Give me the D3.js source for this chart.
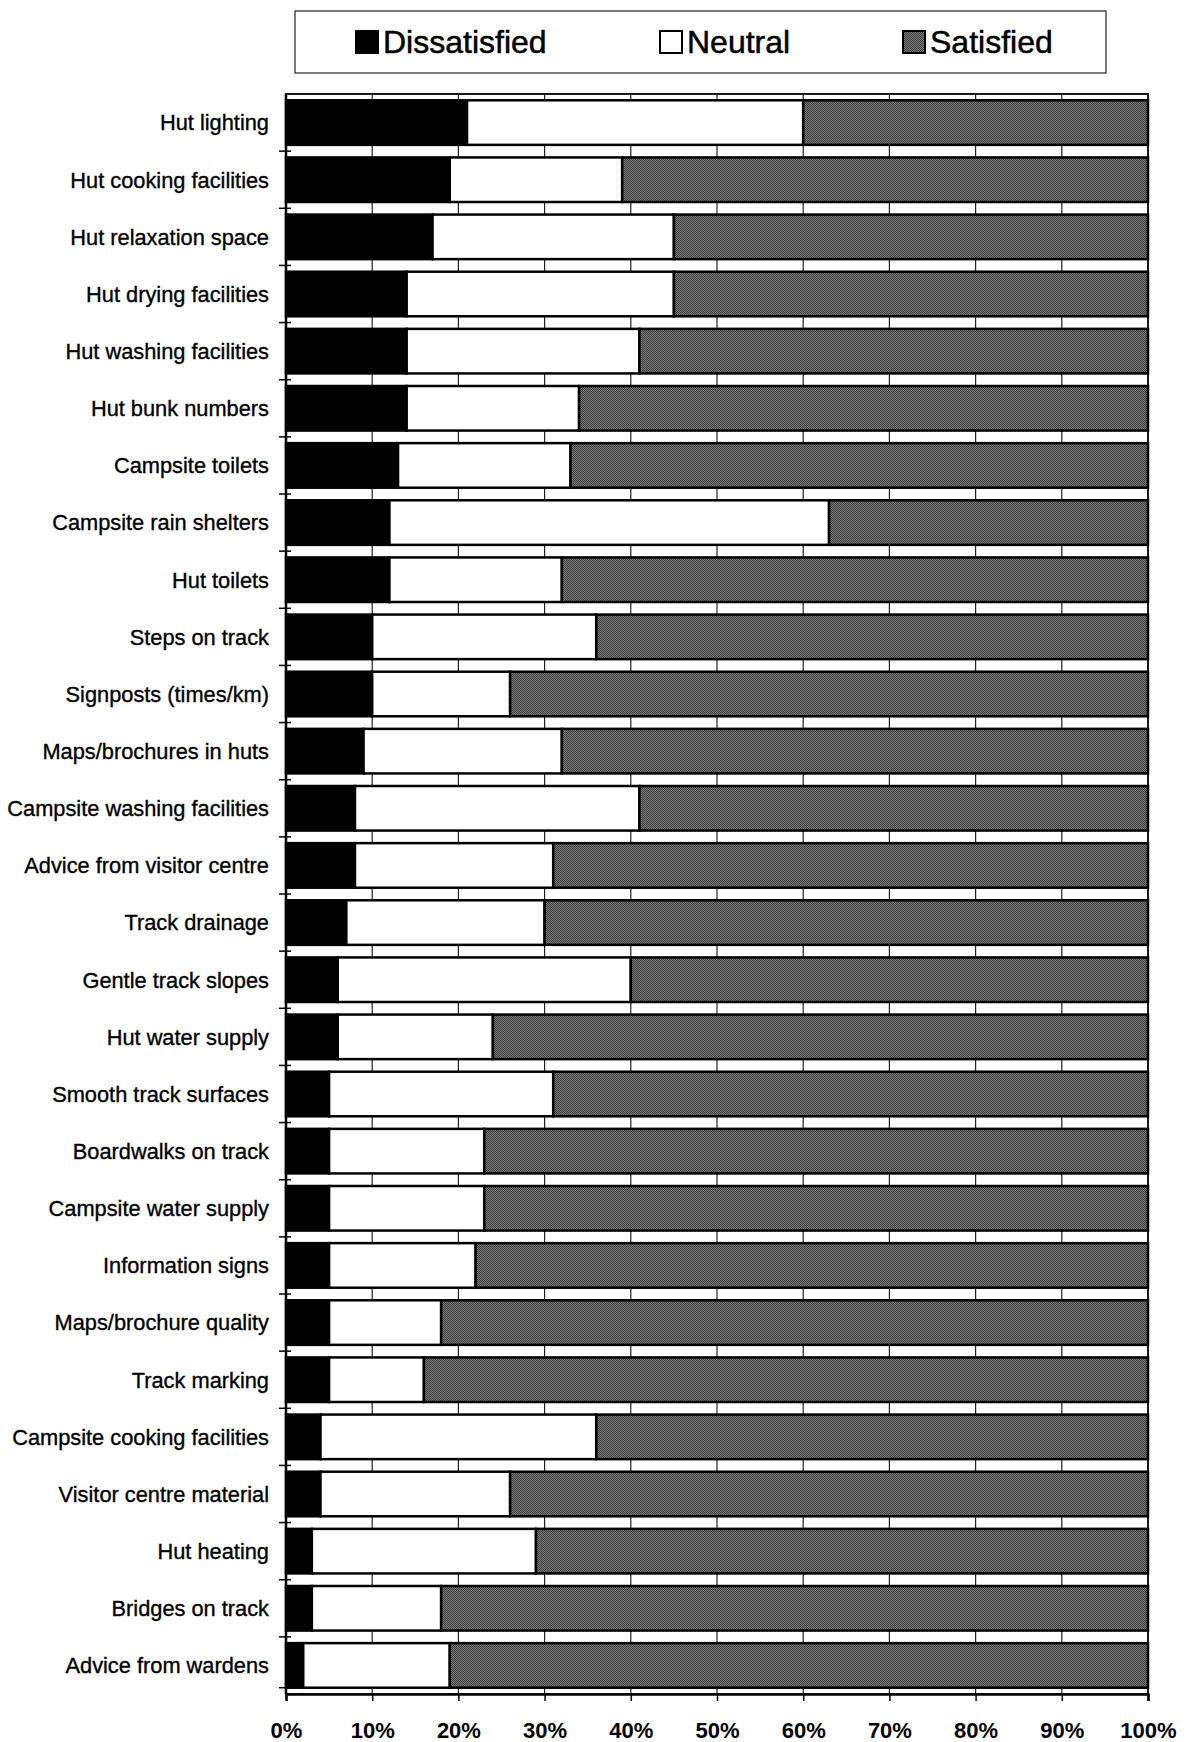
<!DOCTYPE html>
<html>
<head>
<meta charset="utf-8">
<script src="https://cdn.jsdelivr.net/npm/d3@7/dist/d3.min.js"></script>
<style>
  html, body { margin: 0; padding: 0; background: #fff; }
  svg { display: block; font-family: "Liberation Sans", Arial, sans-serif; }
</style>
</head>
<body>
<svg id="chart" width="1187" height="1742"></svg>
<script>
// Facility ratings, percent of respondents per category
const categories = [
  "Hut lighting", "Hut cooking facilities", "Hut relaxation space", "Hut drying facilities",
  "Hut washing facilities", "Hut bunk numbers", "Campsite toilets", "Campsite rain shelters",
  "Hut toilets", "Steps on track", "Signposts (times/km)", "Maps/brochures in huts",
  "Campsite washing facilities", "Advice from visitor centre", "Track drainage",
  "Gentle track slopes", "Hut water supply", "Smooth track surfaces", "Boardwalks on track",
  "Campsite water supply", "Information signs", "Maps/brochure quality", "Track marking",
  "Campsite cooking facilities", "Visitor centre material", "Hut heating",
  "Bridges on track", "Advice from wardens"
];
const dissatisfied = [21, 19, 17, 14, 14, 14, 13, 12, 12, 10, 10, 9, 8, 8, 7, 6, 6, 5, 5, 5, 5, 5, 5, 4, 4, 3, 3, 2];
const neutral      = [39, 20, 28, 31, 27, 20, 20, 51, 20, 26, 16, 23, 33, 23, 23, 34, 18, 26, 18, 18, 17, 13, 11, 32, 22, 26, 15, 17];
const satisfied    = [40, 61, 55, 55, 59, 66, 67, 37, 68, 64, 74, 68, 59, 69, 70, 60, 76, 69, 77, 77, 78, 82, 84, 64, 74, 71, 82, 81];
const seriesNames  = ["Dissatisfied", "Neutral", "Satisfied"];
const xTicks       = [0, 10, 20, 30, 40, 50, 60, 70, 80, 90, 100];

const rows = categories.map((c, i) => ({
  category: c,
  Dissatisfied: dissatisfied[i],
  Neutral: neutral[i],
  Satisfied: satisfied[i]
}));

const svg = d3.select("#chart");
const plot = { left: 286, right: 1148, top: 94, bottom: 1694 };

// Halftone-like grey for the "Satisfied" segments
const defs = svg.append("defs");
const pat = defs.append("pattern")
  .attr("id", "halftone").attr("patternUnits", "userSpaceOnUse")
  .attr("width", 2).attr("height", 2);
pat.append("rect").attr("width", 2).attr("height", 2).attr("fill", "#787878");
pat.append("rect").attr("x", 0).attr("y", 0).attr("width", 1).attr("height", 1).attr("fill", "#404040");
pat.append("rect").attr("x", 1).attr("y", 1).attr("width", 1).attr("height", 1).attr("fill", "#404040");

const fills = {
  Dissatisfied: "#000",
  Neutral: "#fff",
  Satisfied: "url(#halftone)"
};

const x = d3.scaleLinear().domain([0, 100]).range([plot.left, plot.right]);
const y = d3.scaleBand().domain(categories).range([plot.top, plot.bottom]).paddingInner(0.22).paddingOuter(0.11);

// Vertical gridlines
svg.append("g").selectAll("line")
  .data(xTicks.slice(1, -1))
  .join("line")
  .attr("x1", d => x(d)).attr("x2", d => x(d))
  .attr("y1", plot.top).attr("y2", plot.bottom)
  .attr("stroke", "#222").attr("stroke-width", 1.2);

// Plot frame
svg.append("rect")
  .attr("x", plot.left).attr("y", plot.top)
  .attr("width", plot.right - plot.left).attr("height", plot.bottom - plot.top)
  .attr("fill", "none").attr("stroke", "#1a1a1a").attr("stroke-width", 2);

// Stacked bars
const stacked = d3.stack().keys(seriesNames)(rows);
svg.append("g").selectAll("g")
  .data(stacked)
  .join("g")
  .attr("fill", d => fills[d.key])
  .selectAll("rect")
  .data(d => d)
  .join("rect")
  .attr("x", d => x(d[0]))
  .attr("y", d => y(d.data.category))
  .attr("width", d => x(d[1]) - x(d[0]))
  .attr("height", y.bandwidth())
  .attr("stroke", "#000")
  .attr("stroke-width", 2.5);

// Left axis line with cross ticks at row boundaries
svg.append("line")
  .attr("x1", plot.left).attr("x2", plot.left)
  .attr("y1", plot.top).attr("y2", plot.bottom)
  .attr("stroke", "#000").attr("stroke-width", 2.5);
const gap = y.step() - y.bandwidth();
const boundaries = categories.slice(1).map(c => y(c) - gap / 2).concat([plot.bottom - gap / 2]);
svg.append("g").selectAll("line")
  .data(boundaries)
  .join("line")
  .attr("x1", plot.left - 7).attr("x2", plot.left + 5)
  .attr("y1", d => d).attr("y2", d => d)
  .attr("stroke", "#000").attr("stroke-width", 1.5);

// Category labels
svg.append("g").selectAll("text")
  .data(categories)
  .join("text")
  .attr("x", plot.left - 17)
  .attr("y", d => y(d) + y.bandwidth() / 2)
  .attr("dy", "0.36em")
  .attr("text-anchor", "end")
  .attr("font-size", 21.8)
  .attr("fill", "#000")
  .attr("stroke", "#000").attr("stroke-width", 0.35)
  .text(d => d);

// Bottom axis
const xAxis = svg.append("g")
  .attr("transform", `translate(0,${plot.bottom})`)
  .call(d3.axisBottom(x).tickValues(xTicks).tickFormat(d => d + "%").tickSize(7).tickPadding(21));
xAxis.select(".domain").attr("stroke", "#000").attr("stroke-width", 2.5);
xAxis.selectAll(".tick line").attr("stroke", "#000").attr("stroke-width", 1.5);
xAxis.selectAll(".tick text")
  .attr("font-size", 22).attr("font-weight", "bold").attr("fill", "#000")
  .attr("font-family", "'Liberation Sans', Arial, sans-serif");

// Legend
const legend = svg.append("g");
legend.append("rect")
  .attr("x", 295).attr("y", 11).attr("width", 811).attr("height", 62)
  .attr("fill", "#fff").attr("stroke", "#222").attr("stroke-width", 1.2);
const legendX = [356, 660, 903];
const items = legend.selectAll("g.item")
  .data(seriesNames)
  .join("g")
  .attr("class", "item")
  .attr("transform", (d, i) => `translate(${legendX[i]},31)`);
items.append("rect")
  .attr("width", 22).attr("height", 22)
  .attr("fill", d => fills[d])
  .attr("stroke", "#000").attr("stroke-width", 2);
items.append("text")
  .attr("x", 27).attr("y", 22)
  .attr("font-size", 32)
  .attr("fill", "#000")
  .attr("stroke", "#000").attr("stroke-width", 0.5)
  .text(d => d);
</script>
</body>
</html>
